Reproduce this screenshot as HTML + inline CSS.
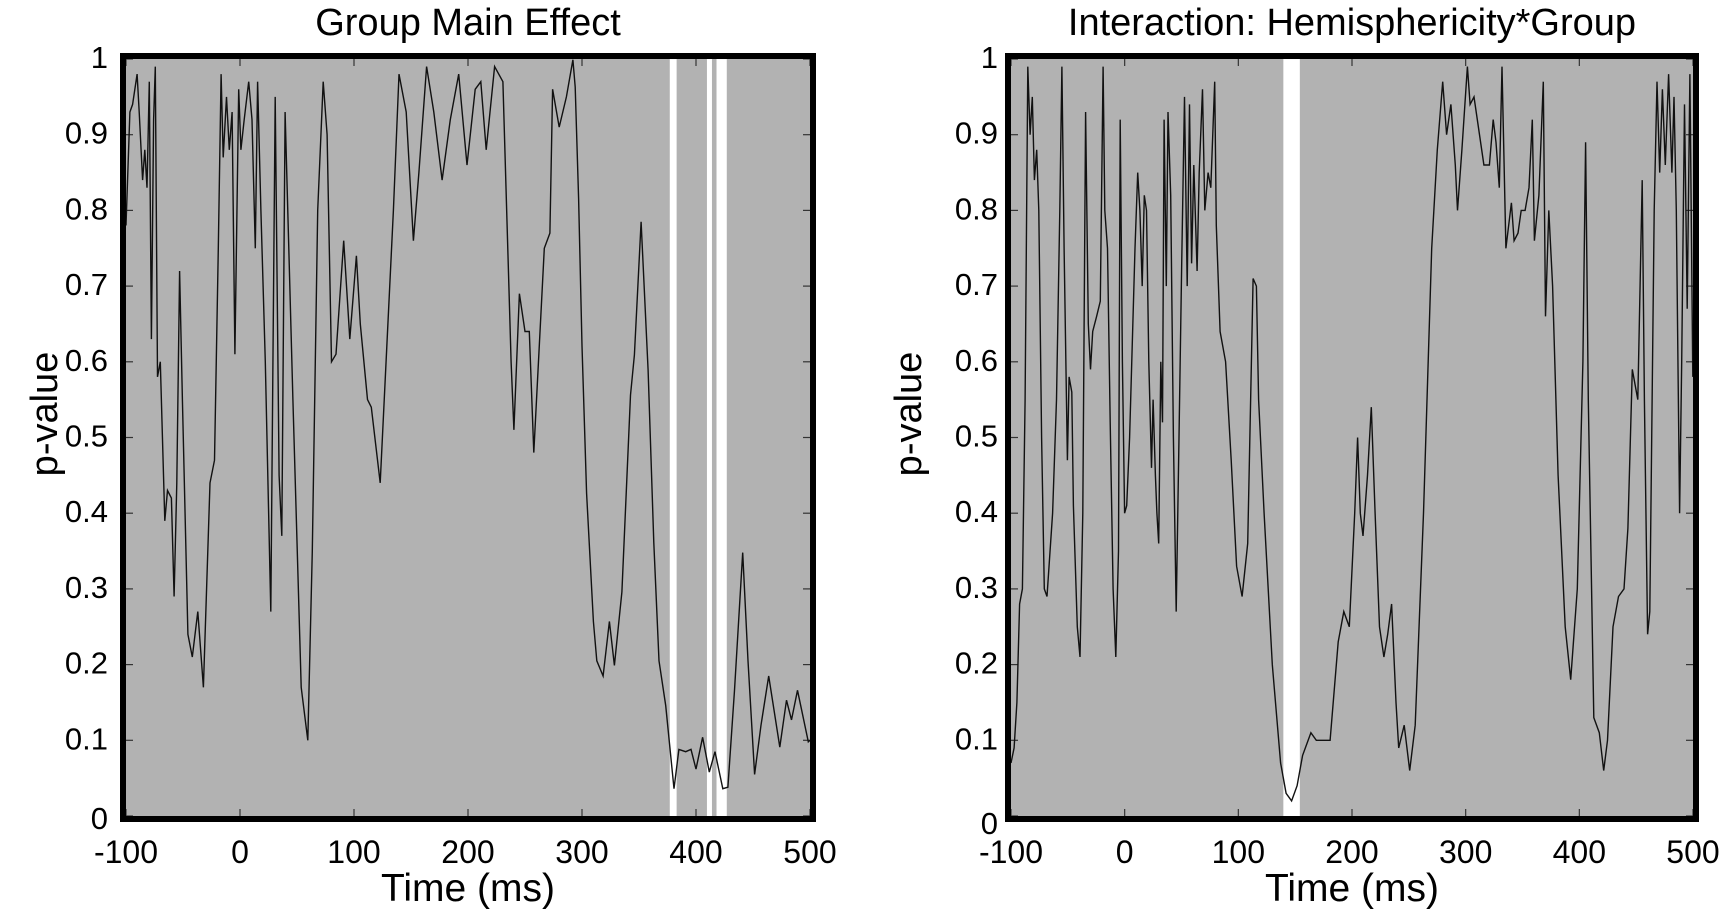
<!DOCTYPE html>
<html><head><meta charset="utf-8">
<style>
html,body{margin:0;padding:0;background:#fff;}
svg{display:block;font-family:"Liberation Sans",Arial,sans-serif;}
</style></head>
<body>
<svg id="chart" width="1726" height="917" viewBox="0 0 1726 917"></svg>
<script>
// ---- Shared axis data ----
const xTicks = [-100, 0, 100, 200, 300, 400, 500];
const yTicks = [0, 0.1, 0.2, 0.3, 0.4, 0.5, 0.6, 0.7, 0.8, 0.9, 1];
const yTickLabels = ["0","0.1","0.2","0.3","0.4","0.5","0.6","0.7","0.8","0.9","1"];
const titles = ["Group Main Effect", "Interaction: Hemisphericity*Group"];

// ---- Left: Group Main Effect ----
const leftTime = [-100,-96.6,-94.2,-90.3,-88.4,-85.4,-83.5,-81.6,-79.6,-77.7,-75.8,-74.3,-72.4,-69.9,-66,-63.6,-60.2,-57.8,-55.4,-53,-50.5,-45.7,-41.8,-37,-32.1,-26.3,-22.4,-19,-16.6,-14.7,-11.8,-9.4,-6.9,-4.5,-1.1,0.8,3.7,7.6,10.5,13.4,15.4,18.3,22.2,27,30.9,34.3,36.7,39.6,46.4,53.7,59.5,63.4,68.2,73,76.4,80.3,84.2,91,96.3,102.1,105.5,111.8,115.2,123,128.8,134.6,139.5,145.8,152.1,156.9,163.7,170,177.3,184.5,191.8,199.1,206.3,211.2,216,223.3,230.6,237.8,240.3,245.1,250,253.8,257.7,266.9,271.8,274.2,280,286.3,292,294,297,300,304,310,313,318.5,324,328.4,335,342.5,346,351.8,358,363,367.5,373.4,380.7,385,391,395.6,400,405.8,411.7,416.7,423.5,428,433.8,441,445.6,451.4,457,463.8,473.5,479.4,483.8,489,498.5,500];
const leftP = [0.78,0.93,0.94,0.98,0.93,0.84,0.88,0.83,0.97,0.63,0.92,0.99,0.58,0.60,0.39,0.43,0.42,0.29,0.44,0.72,0.55,0.24,0.21,0.27,0.17,0.44,0.47,0.75,0.98,0.87,0.95,0.88,0.93,0.61,0.96,0.88,0.92,0.97,0.92,0.75,0.97,0.80,0.60,0.27,0.95,0.45,0.37,0.93,0.55,0.17,0.10,0.35,0.80,0.97,0.90,0.60,0.61,0.76,0.63,0.74,0.65,0.55,0.54,0.44,0.62,0.80,0.98,0.93,0.76,0.85,0.99,0.93,0.84,0.92,0.98,0.86,0.96,0.97,0.88,0.99,0.97,0.60,0.51,0.69,0.64,0.64,0.48,0.75,0.77,0.96,0.91,0.95,0.999,0.963,0.816,0.621,0.426,0.257,0.205,0.185,0.257,0.199,0.296,0.556,0.609,0.785,0.589,0.361,0.205,0.146,0.036,0.088,0.085,0.088,0.062,0.104,0.058,0.085,0.036,0.038,0.166,0.348,0.205,0.055,0.12,0.185,0.091,0.153,0.127,0.166,0.098,0.10];
const leftSig = [[377,383],[409.6,414],[418,427]];

// ---- Right: Interaction ----
const rightTime = [-100,-97.3,-94.8,-92.4,-90.0,-87.6,-85.2,-83.2,-81.3,-79.4,-77.4,-75.5,-73.1,-70.7,-68.3,-63.4,-60.0,-57.1,-55.2,-53.3,-50.4,-48.9,-46.5,-45.1,-41.7,-39.3,-36.8,-34.4,-32.0,-30.1,-28.1,-24.7,-21.4,-19.0,-17.5,-15.1,-12.7,-10.2,-7.8,-5.4,-3.9,-2.0,-0.1,1.8,4.3,9.1,11.5,13.4,15.4,17.3,19.2,21.2,23.6,25.0,27.0,28.4,29.9,31.8,33.3,34.7,36.6,38.1,40.5,42.9,45.3,47.8,50.2,52.6,55.0,57.0,58.9,60.8,63.7,65.6,68.5,70.5,73.4,75.8,79.2,80.6,84.0,88.8,93.7,98.5,103.3,108.2,113.0,115.9,117.8,122.7,129.9,137.2,142.0,146.9,151.7,156.5,163.8,168.6,173.4,180.7,187.9,192.8,197.6,202.4,204.9,207.3,209.7,213.6,217.0,220.3,224.2,228.1,231.4,234.8,238.7,241.1,245.9,250.8,255.6,262.9,270.1,275.0,279.8,283.2,287.0,290.9,292.8,296.7,301.5,303.9,307.3,311.2,316.0,320.9,324.2,326.7,329.6,332.0,335.4,340.2,342.6,346.0,348.9,352.3,355.7,358.6,360.5,364.4,368.3,370.2,373.1,376.5,381.3,387.6,392.4,398.2,403.1,405.5,407.9,412.7,417.6,421.4,424.8,429.6,434.5,439.3,442.7,446.6,451.4,455.3,457.2,460.1,462.0,465.9,468.3,470.7,473.1,475.6,478.5,481.4,483.3,485.3,488.2,490.1,492.5,494.9,497.3,499.8];
const rightP = [0.07,0.09,0.15,0.28,0.30,0.55,0.99,0.90,0.95,0.84,0.88,0.80,0.50,0.30,0.29,0.40,0.55,0.80,0.99,0.75,0.47,0.58,0.56,0.41,0.25,0.21,0.40,0.93,0.65,0.59,0.64,0.66,0.68,0.99,0.80,0.75,0.52,0.30,0.21,0.35,0.92,0.60,0.40,0.41,0.50,0.75,0.85,0.80,0.70,0.82,0.80,0.60,0.46,0.55,0.45,0.40,0.36,0.60,0.52,0.92,0.70,0.93,0.82,0.50,0.27,0.50,0.73,0.95,0.70,0.94,0.73,0.86,0.72,0.85,0.96,0.80,0.85,0.83,0.97,0.78,0.64,0.60,0.47,0.33,0.29,0.36,0.71,0.70,0.55,0.40,0.20,0.07,0.03,0.02,0.04,0.08,0.11,0.10,0.10,0.10,0.23,0.27,0.25,0.40,0.50,0.40,0.37,0.45,0.54,0.40,0.25,0.21,0.24,0.28,0.15,0.09,0.12,0.06,0.12,0.40,0.75,0.88,0.97,0.90,0.94,0.86,0.80,0.88,0.99,0.94,0.95,0.91,0.86,0.86,0.92,0.89,0.83,0.99,0.75,0.81,0.76,0.77,0.80,0.80,0.83,0.92,0.76,0.82,0.97,0.66,0.80,0.70,0.45,0.25,0.18,0.30,0.60,0.89,0.55,0.13,0.11,0.06,0.10,0.25,0.29,0.30,0.38,0.59,0.55,0.84,0.55,0.24,0.27,0.80,0.97,0.85,0.96,0.86,0.98,0.85,0.95,0.80,0.40,0.60,0.94,0.67,0.98,0.58];
const rightSig = [[139.6,154.1]];

const NS = "http://www.w3.org/2000/svg";
const svg = document.getElementById("chart");
function mk(tag, attrs, parent) {
  const e = document.createElementNS(NS, tag);
  for (const k in attrs) e.setAttribute(k, attrs[k]);
  (parent || svg).appendChild(e);
  return e;
}

const panels = [
  {key:"main-effect", x0:126, x1:810, y0:59, y1:816, time:leftTime, p:leftP, sig:leftSig, title:titles[0], ylabX:108, plabX:44, zeroDy:4},
  {key:"interaction", x0:1011, x1:1693, y0:59, y1:816, time:rightTime, p:rightP, sig:rightSig, title:titles[1], ylabX:998, plabX:908, zeroDy:9}
];

panels.forEach(pn => {
  const g = mk("g", {});
  
  
  const xs = t => pn.x0 + (t + 100) / 600 * (pn.x1 - pn.x0);
  const ys = v => pn.y1 - v * (pn.y1 - pn.y0);

  const bg = mk("rect", {x:pn.x0, y:pn.y0, width:pn.x1-pn.x0, height:pn.y1-pn.y0, fill:"#b2b2b2"}, g);
  
  

  pn.sig.forEach((s, i) => {
    const r = mk("rect", {x:xs(s[0]), y:pn.y0, width:xs(s[1])-xs(s[0]), height:pn.y1-pn.y0, fill:"#ffffff"}, g);
    
    
  });

  xTicks.forEach(t => {
    mk("line", {x1:xs(t), x2:xs(t), y1:pn.y1, y2:pn.y1-7, stroke:"#333", "stroke-width":1.2}, g);
    mk("line", {x1:xs(t), x2:xs(t), y1:pn.y0, y2:pn.y0+7, stroke:"#333", "stroke-width":1.2}, g);
    const lbl = mk("text", {x:xs(t), y:863, "font-size":32, "text-anchor":"middle", fill:"#000"}, g);
    lbl.textContent = String(t);
    
    
  });
  yTicks.forEach((v, i) => {
    mk("line", {x1:pn.x0, x2:pn.x0+7, y1:ys(v), y2:ys(v), stroke:"#333", "stroke-width":1.2}, g);
    mk("line", {x1:pn.x1, x2:pn.x1-7, y1:ys(v), y2:ys(v), stroke:"#333", "stroke-width":1.2}, g);
    const dy = v === 0 ? pn.zeroDy : 0;
    const lbl = mk("text", {x:pn.ylabX, y:ys(v)+9+dy, "font-size":31, "text-anchor":"end", fill:"#000"}, g);
    lbl.textContent = yTickLabels[i];
    
    
  });

  const d = pn.time.map((t, i) => (i ? "L" : "M") + xs(t).toFixed(1) + "," + ys(pn.p[i]).toFixed(1)).join("");
  const line = mk("path", {d:d, fill:"none", stroke:"#111", "stroke-width":1.4}, g);
  
  

  const frame = mk("rect", {x:pn.x0-3, y:pn.y0-3, width:pn.x1-pn.x0+6, height:pn.y1-pn.y0+6, fill:"none", stroke:"#000", "stroke-width":6}, g);
  
  

  const title = mk("text", {x:(pn.x0+pn.x1)/2, y:35, "font-size":38, "text-anchor":"middle", fill:"#000"}, g);
  title.textContent = pn.title;
  
  

  const xl = mk("text", {x:(pn.x0+pn.x1)/2, y:901, "font-size":39, "text-anchor":"middle", fill:"#000"}, g);
  xl.textContent = "Time (ms)";
  
  

  const yl = mk("text", {x:0, y:0, "font-size":38, "text-anchor":"middle", fill:"#000", transform:"translate(" + (pn.plabX+13) + ",414) rotate(-90)"}, g);
  yl.textContent = "p-value";
  
  
});
</script>
</body></html>
